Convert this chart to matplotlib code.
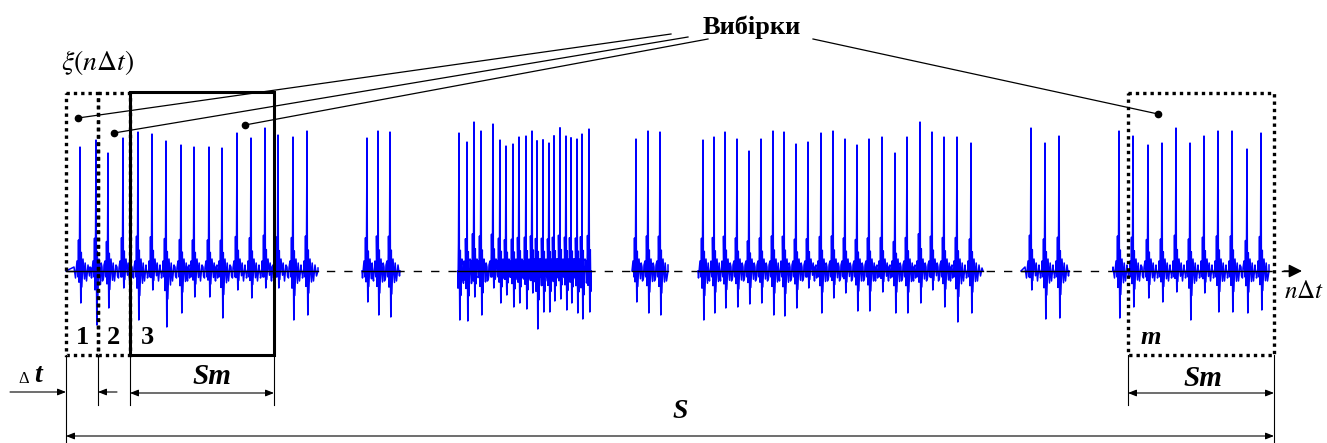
import matplotlib
matplotlib.use("Agg")
import matplotlib.pyplot as plt
from matplotlib.patches import Rectangle

plt.rcParams['mathtext.fontset'] = 'stix'
plt.rcParams['font.family'] = ['Liberation Serif', 'DejaVu Serif']

# bursts of activity along the time axis (sample positions)
burst_start = [66, 362, 458, 632, 698, 1021, 1113]
burst_end = [318, 400, 591, 668, 983, 1069, 1269]

# spikes: position, height above zero, depth below zero
spike_pos = [80, 96, 108, 123, 138, 152, 166, 181, 194, 209, 222, 237, 251, 265, 278, 293, 307,
             367, 378, 390,
             459, 467, 474, 481, 493, 500, 506, 513, 519, 526, 532, 537, 543, 549, 554, 560, 566,
             571, 577, 582, 589,
             636, 648, 660,
             703, 714, 725, 737, 749, 761, 773, 784, 796, 808, 821, 833, 845, 857, 869, 882, 895,
             907, 920, 932, 944, 957, 971,
             1031, 1045, 1059,
             1119, 1133, 1148, 1162, 1176, 1190, 1204, 1218, 1232, 1247, 1261]
spike_up = [124, 131, 118, 133, 139, 137, 130, 126, 124, 124, 123, 138, 133, 143, 136, 134, 140,
            133, 140, 139,
            138, 129, 149, 140, 147, 131, 125, 127, 134, 135, 140, 130, 131, 128, 135, 143, 135,
            133, 132, 137, 142,
            132, 140, 139,
            131, 134, 139, 132, 120, 132, 140, 139, 127, 129, 138, 140, 132, 126, 132, 134, 118,
            134, 149, 139, 134, 134, 128,
            143, 128, 135,
            140, 135, 126, 128, 143, 128, 135, 140, 140, 122, 138]
spike_down = [32, 54, 37, 17, 49, 19, 56, 42, 26, 26, 47, 19, 27, 17, 17, 49, 44,
              31, 44, 46,
              49, 50, 26, 44, 17, 32, 24, 36, 32, 38, 22, 58, 41, 41, 30, 28, 39,
              32, 42, 48, 41,
              31, 42, 44,
              49, 42, 37, 36, 33, 32, 44, 45, 37, 17, 42, 27, 22, 40, 40, 21, 42,
              42, 32, 19, 36, 51, 42,
              19, 48, 47,
              47, 36, 27, 31, 21, 49, 22, 41, 41, 42, 39]

BASE = 271


def spike_shape(t, up, down):
    # one spike with its ringing around the zero line
    dx = [-6, -4.5, -3, -2, -1.5, -1, -0.5, 0, 0.4, 0.8, 1.3, 1.8, 3, 4.5, 5.2,
          6.5, 8, 9.5, 11]
    dy = [4, -7, 10, -6, 0.25 * up, -0.35 * down, 0.2 * up, up, 3, -down, 0.15 * up,
          -0.5 * down, 12, -0.25 * down, 8, -10, 6, -5, 3]
    return [(t + a, b) for a, b in zip(dx, dy)]


fig = plt.figure(figsize=(13.27, 4.43), dpi=100)
ax = fig.add_axes([0, 0, 1, 1])
ax.set_xlim(0, 1327)
ax.set_ylim(443, 0)
ax.axis('off')

# time axis
ax.plot([66, 1290], [BASE, BASE], color='k', lw=1.0, dashes=(6, 6.5), zorder=1)
ax.annotate('', xy=(1302, BASE), xytext=(1284, BASE),
            arrowprops=dict(arrowstyle='-|>', color='k', lw=1, mutation_scale=20,
                            shrinkA=0, shrinkB=0))

for s, e in zip(burst_start, burst_end):
    pts = [(s, 0), (e, 0)]
    for t, u, d in zip(spike_pos, spike_up, spike_down):
        if s <= t <= e:
            pts += [(x, y) for x, y in spike_shape(t, u, d) if s <= x <= e]
    pts.sort(key=lambda p: p[0])
    xs = [p[0] for p in pts]
    ys = [BASE - p[1] for p in pts]
    ax.plot(xs, ys, color='#0000ff', lw=1.1, zorder=2)
    ax.plot([s, e], [BASE, BASE], color='k', lw=1.0, zorder=3)

# sample windows
dotted = (0, (1, 1.2))
ax.add_patch(Rectangle((66, 93), 32, 262, fill=False, ec='k', lw=2.4, ls=dotted, zorder=4))
ax.add_patch(Rectangle((98, 93), 32, 262, fill=False, ec='k', lw=2.4, ls=dotted, zorder=4))
ax.add_patch(Rectangle((130, 92), 144, 263, fill=False, ec='k', lw=2.2, zorder=5))
ax.add_patch(Rectangle((1128, 93), 146, 262, fill=False, ec='k', lw=2.4, ls=dotted, zorder=4))

for x, lab in [(82, '1'), (114, '2'), (147, '3')]:
    ax.text(x, 338, lab, fontsize=19, fontweight='bold', ha='center', va='center')
ax.text(1151, 338, 'm', fontsize=19, fontweight='bold', style='italic', ha='center', va='center')

# leaders from the caption to each window
ax.text(752, 27, 'Вибірки', fontsize=19, fontweight='bold', ha='center', va='center')
leaders = [((671, 34), (78, 118)), ((688, 37), (114, 133)), ((708, 39), (245, 125)),
           ((813, 39), (1158, 114))]
for (x0, y0), (x1, y1) in leaders:
    ax.plot([x0, x1], [y0, y1], color='k', lw=0.9, zorder=6)
    ax.plot(x1, y1, 'o', color='k', ms=4.5, zorder=6)

ax.text(98, 62, r'$\xi(n\Delta t)$', fontsize=20, ha='center', va='center')
ax.text(1304, 292, r'$n\Delta t$', fontsize=18, ha='center', va='center')

# dimension lines
for x, y1 in [(66, 443), (98, 405), (130, 405), (274, 405), (1128, 405), (1274, 442)]:
    ax.plot([x, x], [355, y1], color='k', lw=0.8)

head = dict(color='k', lw=0.8, shrinkA=0, shrinkB=0, mutation_scale=10)
ax.annotate('', xy=(66, 392), xytext=(10, 392),
            arrowprops=dict(arrowstyle='-|>,head_length=0.5,head_width=0.2', **head))
ax.annotate('', xy=(98, 392), xytext=(117, 392),
            arrowprops=dict(arrowstyle='-|>,head_length=0.5,head_width=0.2', **head))
for x0, x1, y in [(130, 274, 393), (1128, 1274, 393), (66, 1274, 436)]:
    ax.annotate('', xy=(x1, y), xytext=(x0, y),
                arrowprops=dict(arrowstyle='<|-|>,head_length=0.5,head_width=0.2', **head))

ax.text(24, 379, 'Δ', fontsize=12, ha='center', va='center')
ax.text(38, 375, 't', fontsize=20, fontweight='bold', style='italic', ha='center', va='center')
ax.text(212, 377, 'Sm', fontsize=21, fontweight='bold', style='italic', ha='center', va='center')
ax.text(1203, 378, 'Sm', fontsize=21, fontweight='bold', style='italic', ha='center', va='center')
ax.text(680, 412, 'S', fontsize=20, fontweight='bold', style='italic', ha='center', va='center')

fig.savefig('out.png', dpi=100)
